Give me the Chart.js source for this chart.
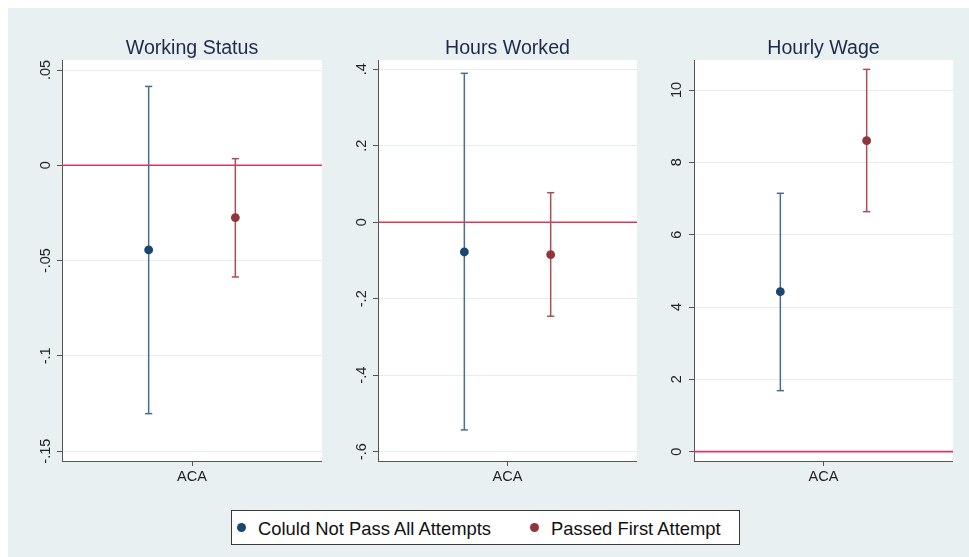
<!DOCTYPE html>
<html>
<head>
<meta charset="utf-8">
<script src="https://cdn.jsdelivr.net/npm/chart.js@4/dist/chart.umd.min.js"></script>
<style>
  html, body { margin: 0; padding: 0; background: #ffffff; }
  #frame { position: absolute; left: 8px; top: 8px; width: 961px; height: 549px; background: #e8f0f2; }
  .panel { position: absolute; top: 35px; }
  .panel canvas { display: block; }
  #legend {
    position: absolute; left: 231px; top: 510px; width: 507px; height: 33px;
    background: #ffffff; border: 1px solid #3a3a3a;
    font-family: "Liberation Sans", Arial, sans-serif; font-size: 18.4px; color: #111111;
  }
  #legend .dot { position: absolute; width: 9px; height: 9px; border-radius: 50%; top: 12px; }
  #legend .lbl { position: absolute; top: 1px; line-height: 33px; white-space: nowrap; }
</style>
</head>
<body>
<div id="frame"></div>
<div class="panel" style="left:22px"><canvas id="c0" width="300" height="456"></canvas></div>
<div class="panel" style="left:338px"><canvas id="c1" width="299" height="456"></canvas></div>
<div class="panel" style="left:654px"><canvas id="c2" width="299" height="456"></canvas></div>
<div id="legend">
  <span class="dot" id="d0" style="left:5px"></span><span class="lbl" id="l0" style="left:26px"></span>
  <span class="dot" id="d1" style="left:298px"></span><span class="lbl" id="l1" style="left:319px"></span>
</div>
<script>
// ---- data ----
const categories = ['ACA'];
const panelTitles = ['Working Status', 'Hours Worked', 'Hourly Wage'];
const seriesNames = ['Coluld Not Pass All Attempts', 'Passed First Attempt'];

// point estimates and 95% interval bounds, one entry per panel
const couldNotPassEst = [-0.0444, -0.0777, 4.424];
const couldNotPassLo  = [-0.1303, -0.5430, 1.687];
const couldNotPassHi  = [ 0.0414,  0.3895, 7.144];
const passedFirstEst  = [-0.0274, -0.0847, 8.599];
const passedFirstLo   = [-0.0586, -0.2458, 6.636];
const passedFirstHi   = [ 0.0035,  0.0774, 10.57];

// y-axis ticks per panel
const yTicks0 = [-0.15, -0.1, -0.05, 0, 0.05];
const yTickLabels0 = ['-.15', '-.1', '-.05', '0', '.05'];
const yTicks1 = [-0.6, -0.4, -0.2, 0, 0.2, 0.4];
const yTickLabels1 = ['-.6', '-.4', '-.2', '0', '.2', '.4'];
const yTicks2 = [0, 2, 4, 6, 8, 10];
const yTickLabels2 = ['0', '2', '4', '6', '8', '10'];
const yRanges = [[-0.15515, 0.05525], [-0.6243, 0.4243], [-0.258, 10.829]];
const refLine = 0;

// ---- styling ----
const FONT = '"Liberation Sans", Arial, sans-serif';
const NAVY = '#1a476f', MAROON = '#90353b';
const NAVY_BAR = '#4a6d8f', MAROON_BAR = '#a64f57';
const ZERO = '#d43a5c';
const AXIS = '#555555';
const GRID = '#e4edf0';

const panels = [
  { ticks: yTicks0, labels: yTickLabels0, pad: -1 },
  { ticks: yTicks1, labels: yTickLabels1, pad: 3 },
  { ticks: yTicks2, labels: yTickLabels2, pad: 4 }
];

const plotFill = {
  id: 'plotFill',
  beforeDraw(chart) {
    const { ctx, chartArea: a } = chart;
    ctx.save();
    ctx.fillStyle = '#ffffff';
    ctx.fillRect(a.left, a.top, a.right - a.left, a.bottom - a.top);
    ctx.restore();
  }
};

function errorBar(x, lo, hi, color) {
  return {
    type: 'line', showLine: true,
    data: [{ x: x, y: lo }, { x: x, y: hi }],
    borderColor: color, borderWidth: 1.5,
    pointStyle: 'line', pointRadius: 3.6, pointHoverRadius: 3.6,
    pointBorderColor: color, pointBorderWidth: 1.5
  };
}

function estimate(x, y, color) {
  return {
    type: 'scatter',
    data: [{ x: x, y: y }],
    backgroundColor: color, borderWidth: 0,
    pointRadius: 4.4, pointHoverRadius: 4.4
  };
}

panels.forEach((p, i) => {
  new Chart(document.getElementById('c' + i), {
    type: 'scatter',
    data: {
      datasets: [
        {
          type: 'line', showLine: true,
          data: [{ x: 0, y: refLine }, { x: 3, y: refLine }],
          borderColor: ZERO, borderWidth: 1.6, pointRadius: 0
        },
        estimate(1, couldNotPassEst[i], NAVY),
        estimate(2, passedFirstEst[i], MAROON),
        errorBar(1, couldNotPassLo[i], couldNotPassHi[i], NAVY_BAR),
        errorBar(2, passedFirstLo[i], passedFirstHi[i], MAROON_BAR)
      ]
    },
    options: {
      responsive: false,
      animation: false,
      devicePixelRatio: 1,
      layout: { autoPadding: false, padding: 0 },
      events: [],
      plugins: {
        legend: { display: false },
        tooltip: { enabled: false },
        title: {
          display: true, fullSize: false, text: panelTitles[i], color: '#1d2a4b',
          font: { family: FONT, size: 19.6, weight: 'normal' },
          padding: { top: 1.5, bottom: 0 }
        }
      },
      scales: {
        x: {
          type: 'linear', min: 0, max: 3,
          afterBuildTicks: s => { s.ticks = [{ value: 1.5 }]; },
          afterFit: s => { s.height = 30; s.paddingLeft = 0; s.paddingRight = 0; },
          ticks: {
            callback: () => categories[0], autoSkip: false, maxRotation: 0,
            color: '#222222', padding: 2, font: { family: FONT, size: 14.5 }
          },
          grid: { display: true, drawOnChartArea: false, drawTicks: true, tickLength: 5, tickColor: AXIS },
          border: { display: true, color: AXIS, width: 1 }
        },
        y: {
          type: 'linear', min: yRanges[i][0], max: yRanges[i][1],
          afterBuildTicks: s => { s.ticks = p.ticks.map(v => ({ value: v })); },
          afterFit: s => { s.width = 40; },
          ticks: {
            callback: (v, idx) => p.labels[idx], autoSkip: false,
            minRotation: 90, maxRotation: 90, crossAlign: 'center',
            padding: p.pad, color: '#222222', font: { family: FONT, size: 14.5 }
          },
          grid: { color: GRID, lineWidth: 1, tickColor: AXIS, tickLength: 5 },
          border: { display: true, color: AXIS, width: 1 }
        }
      }
    },
    plugins: [plotFill]
  });
});

// legend entries
document.getElementById('d0').style.background = NAVY;
document.getElementById('d1').style.background = MAROON;
document.getElementById('l0').textContent = seriesNames[0];
document.getElementById('l1').textContent = seriesNames[1];
</script>
</body>
</html>
